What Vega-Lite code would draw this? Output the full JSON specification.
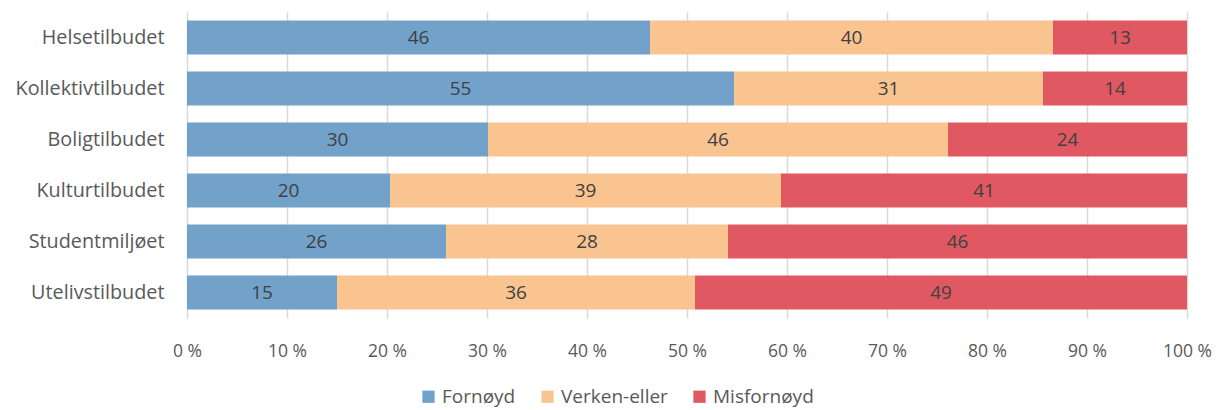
{
  "$schema": "https://vega.github.io/schema/vega-lite/v6.json",
  "autosize": {"type": "none"},
  "padding": {"left": 187, "top": 12, "right": 36, "bottom": 92},
  "width": 1000,
  "height": 306,
  "background": "white",
  "data": {
    "values": [
      {"kategori": "Helsetilbudet", "svar": "Fornøyd", "rekke": 1, "andel": 46.3},
      {"kategori": "Helsetilbudet", "svar": "Verken-eller", "rekke": 2, "andel": 40.3},
      {"kategori": "Helsetilbudet", "svar": "Misfornøyd", "rekke": 3, "andel": 13.4},
      {"kategori": "Kollektivtilbudet", "svar": "Fornøyd", "rekke": 1, "andel": 54.7},
      {"kategori": "Kollektivtilbudet", "svar": "Verken-eller", "rekke": 2, "andel": 30.9},
      {"kategori": "Kollektivtilbudet", "svar": "Misfornøyd", "rekke": 3, "andel": 14.4},
      {"kategori": "Boligtilbudet", "svar": "Fornøyd", "rekke": 1, "andel": 30.1},
      {"kategori": "Boligtilbudet", "svar": "Verken-eller", "rekke": 2, "andel": 46.0},
      {"kategori": "Boligtilbudet", "svar": "Misfornøyd", "rekke": 3, "andel": 23.9},
      {"kategori": "Kulturtilbudet", "svar": "Fornøyd", "rekke": 1, "andel": 20.3},
      {"kategori": "Kulturtilbudet", "svar": "Verken-eller", "rekke": 2, "andel": 39.1},
      {"kategori": "Kulturtilbudet", "svar": "Misfornøyd", "rekke": 3, "andel": 40.6},
      {"kategori": "Studentmiljøet", "svar": "Fornøyd", "rekke": 1, "andel": 25.9},
      {"kategori": "Studentmiljøet", "svar": "Verken-eller", "rekke": 2, "andel": 28.2},
      {"kategori": "Studentmiljøet", "svar": "Misfornøyd", "rekke": 3, "andel": 45.9},
      {"kategori": "Utelivstilbudet", "svar": "Fornøyd", "rekke": 1, "andel": 15.0},
      {"kategori": "Utelivstilbudet", "svar": "Verken-eller", "rekke": 2, "andel": 35.8},
      {"kategori": "Utelivstilbudet", "svar": "Misfornøyd", "rekke": 3, "andel": 49.2}
    ]
  },
  "transform": [
    {"stack": "andel", "groupby": ["kategori"], "sort": [{"field": "rekke", "order": "ascending"}], "as": ["x0", "x1"]},
    {"calculate": "(datum.x0 + datum.x1) / 2", "as": "xmid"}
  ],
  "encoding": {
    "y": {
      "field": "kategori",
      "type": "nominal",
      "sort": ["Helsetilbudet", "Kollektivtilbudet", "Boligtilbudet", "Kulturtilbudet", "Studentmiljøet", "Utelivstilbudet"],
      "scale": {"paddingInner": 0.33, "paddingOuter": 0.165},
      "axis": {
        "title": null,
        "domain": false,
        "ticks": false,
        "labelPadding": 23,
        "labelFont": "Open Sans",
        "labelFontSize": 19.8,
        "labelColor": "#595959"
      }
    }
  },
  "layer": [
    {
      "mark": {"type": "bar"},
      "encoding": {
        "x": {
          "field": "x0",
          "type": "quantitative",
          "scale": {"domain": [0, 100], "nice": false},
          "axis": {
            "title": null,
            "values": [0, 10, 20, 30, 40, 50, 60, 70, 80, 90, 100],
            "labelExpr": "datum.value + ' %'",
            "domain": false,
            "ticks": false,
            "grid": true,
            "gridColor": "#d9d9d9",
            "gridWidth": 1.5,
            "labelPadding": 24,
            "labelFont": "Open Sans",
            "labelFontSize": 17.5,
            "labelColor": "#595959",
            "labelFlush": false
          }
        },
        "x2": {"field": "x1"},
        "color": {
          "field": "svar",
          "type": "nominal",
          "sort": ["Fornøyd", "Verken-eller", "Misfornøyd"],
          "scale": {"domain": ["Fornøyd", "Verken-eller", "Misfornøyd"], "range": ["#72a2ca", "#fac491", "#df5862"]},
          "legend": {
            "title": null,
            "orient": "none",
            "legendX": 232,
            "legendY": 375,
            "direction": "horizontal",
            "symbolType": "square",
            "symbolSize": 150,
            "symbolStrokeWidth": 0,
            "labelFont": "Open Sans",
            "labelFontSize": 19,
            "labelColor": "#595959",
            "labelOffset": 4,
            "columnPadding": 22,
            "padding": 0
          }
        }
      }
    },
    {
      "mark": {"type": "text", "font": "Open Sans", "fontSize": 19, "color": "#404040", "baseline": "middle", "align": "center"},
      "encoding": {
        "x": {"field": "xmid", "type": "quantitative"},
        "text": {"field": "andel", "type": "quantitative", "format": ".0f"}
      }
    }
  ],
  "config": {
    "view": {"stroke": null}
  }
}
